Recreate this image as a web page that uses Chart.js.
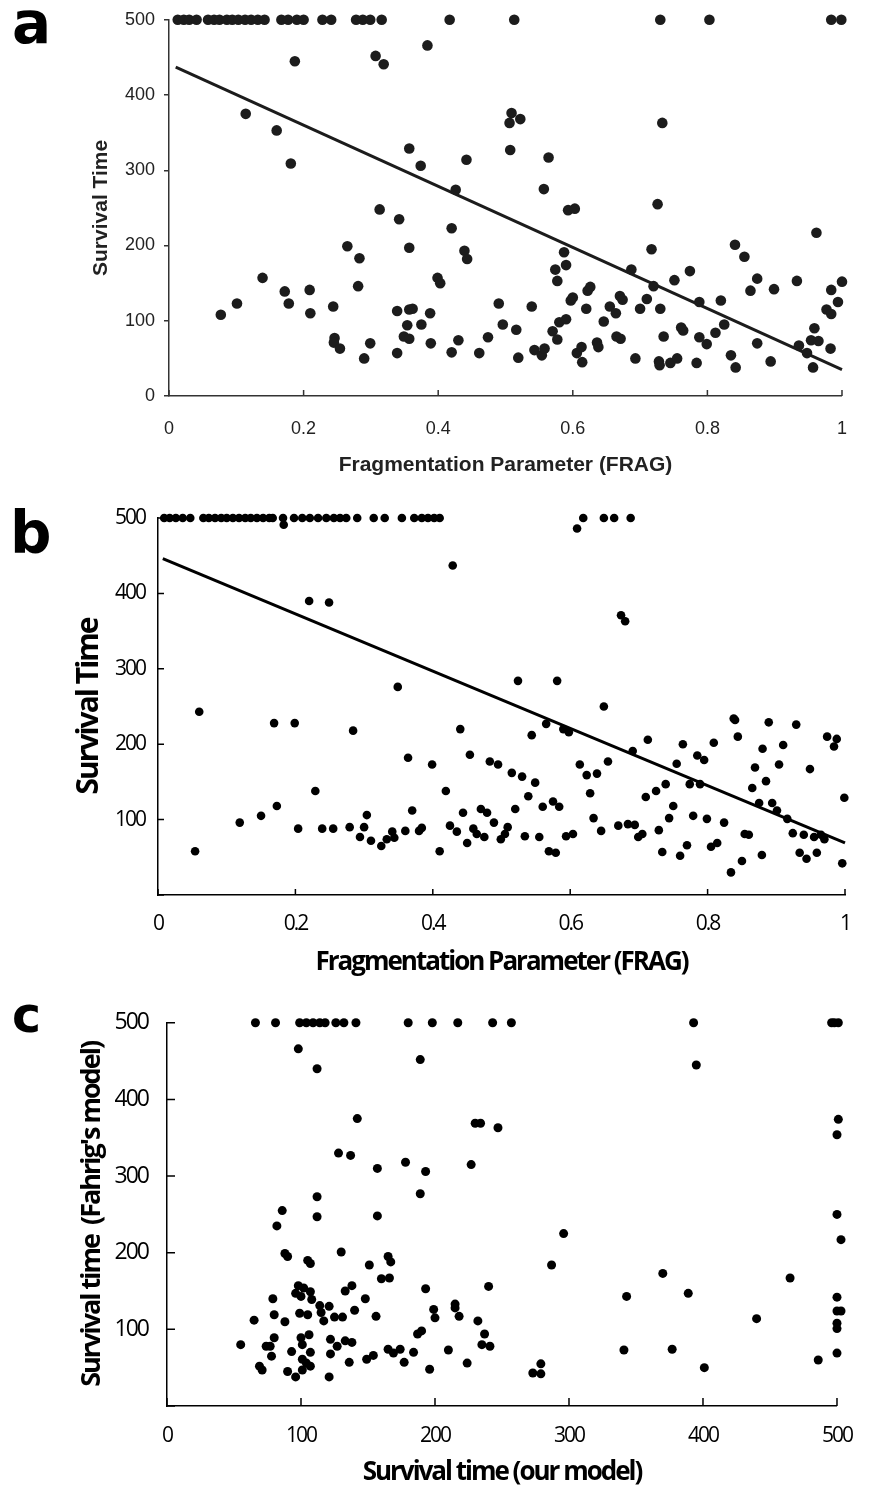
<!DOCTYPE html>
<html>
<head>
<meta charset="utf-8">
<script src="https://cdn.jsdelivr.net/npm/chart.js@4.4.1/dist/chart.umd.min.js"></script>
<style>
  body { margin: 0; background: #fff; }
  #page { position: relative; width: 869px; height: 1488px; overflow: hidden; background: #fff; }
  #page canvas { position: absolute; left: 0; }
  .panel-label { position: absolute; font-family: "DejaVu Sans", sans-serif; font-weight: bold; line-height: 1; color: #000; }
</style>
</head>
<body>
<div id="page">
  <canvas id="chartA" width="869" height="490" style="top:0px"></canvas>
  <canvas id="chartB" width="869" height="500" style="top:490px"></canvas>
  <canvas id="chartC" width="869" height="498" style="top:990px"></canvas>
  <div class="panel-label" style="left:12px; top:-6px; font-size:58px">a</div>
  <div class="panel-label" style="left:10px; top:504px; font-size:58px">b</div>
  <div class="panel-label" style="left:12px; top:991px; font-size:49px">c</div>
</div>
<script>
// panel a: FRAG vs survival time (Fahrig)
const pointsA = [
  [0.013,500],[0.022,500],[0.030,500],[0.041,500],[0.058,500],[0.067,500],[0.075,500],[0.086,500],[0.094,500],[0.103,500],
  [0.113,500],[0.122,500],[0.132,500],[0.142,500],[0.167,500],[0.177,500],[0.190,500],[0.200,500],[0.228,500],[0.241,500],
  [0.278,500],[0.288,500],[0.299,500],[0.316,500],[0.417,500],[0.513,500],[0.730,500],[0.803,500],[0.984,500],[0.999,500],
  [0.384,466],[0.187,445],[0.307,452],[0.319,441],[0.114,375],[0.160,353],[0.181,309],[0.357,329],[0.374,306],[0.313,248],
  [0.342,235],[0.265,199],[0.357,197],[0.509,376],[0.506,363],[0.522,368],[0.507,327],[0.442,314],[0.564,317],[0.426,274],
  [0.557,275],[0.593,247],[0.603,249],[0.733,363],[0.726,255],[0.420,223],[0.962,217],[0.841,201],[0.283,183],[0.281,146],
  [0.139,157],[0.172,139],[0.209,141],[0.178,123],[0.101,123],[0.077,108],[0.210,110],[0.244,119],[0.246,77],[0.245,71],
  [0.254,63],[0.299,70],[0.290,50],[0.339,113],[0.357,115],[0.362,116],[0.354,94],[0.375,95],[0.388,110],[0.349,79],
  [0.357,76],[0.339,57],[0.389,70],[0.439,193],[0.443,182],[0.399,157],[0.403,150],[0.420,58],[0.430,74],[0.461,57],
  [0.474,78],[0.490,123],[0.496,95],[0.516,88],[0.519,51],[0.539,119],[0.543,61],[0.554,54],[0.558,63],[0.570,86],
  [0.577,75],[0.574,168],[0.577,153],[0.587,191],[0.590,174],[0.580,98],[0.590,102],[0.597,127],[0.600,131],[0.606,57],
  [0.613,65],[0.614,45],[0.620,116],[0.622,140],[0.626,145],[0.636,71],[0.638,65],[0.646,99],[0.655,119],[0.664,110],
  [0.665,79],[0.671,76],[0.670,133],[0.674,128],[0.693,50],[0.687,168],[0.700,116],[0.710,129],[0.717,195],[0.720,146],
  [0.730,116],[0.735,79],[0.728,46],[0.729,41],[0.745,44],[0.755,50],[0.751,154],[0.761,91],[0.764,87],[0.774,166],
  [0.784,44],[0.788,125],[0.788,78],[0.799,69],[0.812,84],[0.820,127],[0.825,95],[0.835,54],[0.842,38],[0.855,185],
  [0.864,140],[0.874,156],[0.874,70],[0.894,46],[0.899,142],[0.933,153],[0.936,67],[0.948,57],[0.957,38],[0.959,90],
  [0.954,74],[0.965,73],[0.977,115],[0.984,109],[0.983,63],[0.984,141],[0.994,125],[1.000,152]
];
const fitA = [[0.01,437],[1.0,35]];

// panel b: FRAG vs survival time (our model)
const pointsB = [
  [0.009,500],[0.017,500],[0.026,500],[0.036,500],[0.047,500],[0.066,500],[0.074,500],[0.083,500],[0.092,500],[0.100,500],
  [0.109,500],[0.118,500],[0.127,500],[0.135,500],[0.144,500],[0.153,500],[0.162,500],[0.167,500],[0.182,500],[0.198,500],
  [0.210,500],[0.221,500],[0.233,500],[0.245,500],[0.256,500],[0.265,500],[0.274,500],[0.290,500],[0.314,500],[0.330,500],
  [0.355,500],[0.373,500],[0.384,500],[0.393,500],[0.402,500],[0.410,500],[0.619,500],[0.649,500],[0.664,500],[0.688,500],
  [0.183,491],[0.610,486],[0.840,507],[0.974,507],[0.220,390],[0.249,388],[0.349,276],[0.060,243],[0.169,228],[0.199,228],
  [0.284,218],[0.429,437],[0.674,371],[0.680,363],[0.524,284],[0.581,284],[0.649,250],[0.440,220],[0.544,212],[0.565,227],
  [0.590,220],[0.598,216],[0.838,234],[0.889,229],[0.929,226],[0.364,182],[0.399,173],[0.229,138],[0.054,58],[0.119,96],
  [0.150,105],[0.173,118],[0.204,88],[0.239,88],[0.255,88],[0.279,90],[0.294,77],[0.300,90],[0.304,106],[0.310,72],
  [0.325,65],[0.333,74],[0.341,84],[0.344,76],[0.360,85],[0.370,112],[0.380,85],[0.384,89],[0.410,58],[0.419,138],
  [0.425,92],[0.435,84],[0.444,109],[0.450,69],[0.454,186],[0.459,88],[0.464,81],[0.470,114],[0.475,77],[0.479,109],
  [0.483,177],[0.495,173],[0.489,96],[0.499,74],[0.505,81],[0.509,90],[0.515,162],[0.520,114],[0.530,157],[0.534,78],
  [0.539,131],[0.549,149],[0.555,77],[0.560,117],[0.569,58],[0.579,56],[0.575,124],[0.584,117],[0.594,78],[0.604,81],
  [0.614,173],[0.624,159],[0.639,161],[0.629,135],[0.634,102],[0.645,85],[0.655,177],[0.670,92],[0.684,94],[0.694,93],
  [0.699,77],[0.705,81],[0.691,191],[0.710,130],[0.713,206],[0.725,138],[0.729,86],[0.734,57],[0.739,147],[0.744,102],
  [0.750,118],[0.755,174],[0.760,52],[0.764,200],[0.770,66],[0.774,147],[0.779,105],[0.785,185],[0.795,179],[0.789,147],
  [0.799,101],[0.805,64],[0.814,69],[0.809,202],[0.824,96],[0.834,30],[0.840,232],[0.844,210],[0.850,45],[0.854,81],
  [0.860,80],[0.865,142],[0.869,169],[0.875,122],[0.879,53],[0.880,194],[0.885,151],[0.894,122],[0.901,112],[0.904,173],
  [0.910,199],[0.916,101],[0.924,82],[0.934,56],[0.940,80],[0.944,48],[0.949,167],[0.955,77],[0.965,80],[0.970,74],
  [0.959,56],[0.974,210],[0.988,207],[0.984,197],[0.999,129],[0.996,42]
];
const fitB = [[0.007,446],[1.0,69]];

// panel c: our model vs Fahrig's model
const pointsC = [
  [66,500],[81,500],[99,500],[104,500],[109,500],[114,500],[118,500],[126,500],[132,500],[141,500],
  [180,500],[198,500],[217,500],[243,500],[257,500],[393,500],[496,500],[498,500],[501,500],
  [98,466],[112,440],[142,375],[128,330],[137,327],[157,310],[178,318],[193,306],[189,452],[112,273],
  [189,277],[86,255],[112,247],[157,248],[82,235],[395,445],[230,369],[234,369],[247,363],[227,315],
  [501,374],[500,354],[500,250],[503,217],[296,225],[88,199],[90,195],[105,190],[107,186],[130,201],
  [151,184],[165,195],[167,188],[160,166],[166,167],[193,153],[79,140],[98,157],[102,154],[96,147],
  [100,143],[107,149],[108,139],[114,131],[121,130],[133,150],[138,157],[148,140],[65,112],[80,119],
  [88,110],[99,121],[105,119],[115,122],[117,111],[125,116],[131,116],[140,125],[156,117],[199,126],
  [200,115],[55,80],[74,78],[77,78],[80,89],[78,65],[69,52],[71,47],[90,45],[96,38],
  [93,71],[100,89],[106,93],[101,80],[107,70],[101,61],[104,56],[107,52],[101,47],[122,87],
  [127,78],[122,68],[121,38],[133,85],[138,83],[136,57],[149,61],[154,66],[165,74],[169,69],
  [174,74],[177,57],[184,70],[187,94],[190,98],[196,48],[287,184],[240,156],[215,133],[215,128],
  [218,117],[232,111],[237,94],[235,80],[241,78],[210,73],[224,56],[273,43],[279,55],[279,42],
  [343,143],[341,73],[370,173],[377,74],[389,147],[401,50],[440,114],[465,167],[486,60],[500,142],
  [500,124],[503,124],[500,108],[500,101],[500,69]
];

const fragTicks = [0, 0.2, 0.4, 0.6, 0.8, 1];
const timeTicks = [0, 100, 200, 300, 400, 500];

const toXY = arr => arr.map(p => ({ x: p[0], y: p[1] }));

// tick marks drawn on the inside of the axes
const innerTicks = {
  id: "innerTicks",
  afterDatasetsDraw(chart, args, opts) {
    const ctx = chart.ctx;
    const area = chart.chartArea;
    const len = opts.length || 6;
    ctx.save();
    ctx.strokeStyle = opts.color || "#000";
    ctx.lineWidth = opts.width || 1.5;
    ctx.beginPath();
    if (opts.x) {
      chart.scales.x.ticks.forEach(t => {
        const px = chart.scales.x.getPixelForValue(t.value);
        ctx.moveTo(px, area.bottom);
        ctx.lineTo(px, area.bottom - len);
      });
    }
    if (opts.y) {
      chart.scales.y.ticks.forEach(t => {
        const py = chart.scales.y.getPixelForValue(t.value);
        ctx.moveTo(area.left, py);
        ctx.lineTo(area.left + len, py);
      });
    }
    ctx.stroke();
    ctx.restore();
  }
};

// the scanned lettering in b and c is very tight
const tightText = {
  id: "tightText",
  beforeUpdate(chart, args, opts) { chart.ctx.letterSpacing = (opts.px || 0) + "px"; },
  beforeDraw(chart, args, opts) { chart.ctx.letterSpacing = (opts.px || 0) + "px"; }
};

function scatterSet(arr, color, radius) {
  return {
    data: toXY(arr),
    backgroundColor: color,
    borderColor: color,
    pointRadius: radius,
    pointHoverRadius: radius,
    pointBorderWidth: 0,
    clip: false
  };
}

function fitSet(arr, color, width) {
  return {
    data: toXY(arr),
    showLine: true,
    borderColor: color,
    borderWidth: width,
    pointRadius: 0,
    clip: false
  };
}

const baseOpts = {
  responsive: false,
  animation: false,
  events: [],
  plugins: { legend: { display: false }, tooltip: { enabled: false } }
};

// ---- a ----
const fontA = "'Liberation Sans', Arial, sans-serif";
new Chart(document.getElementById("chartA"), {
  type: "scatter",
  data: { datasets: [scatterSet(pointsA, "#1c1c1c", 5.3), fitSet(fitA, "#1c1c1c", 3)] },
  options: {
    ...baseOpts,
    layout: { padding: { top: 17, right: 10, left: 0, bottom: 0 } },
    plugins: { ...baseOpts.plugins, innerTicks: { x: true, y: false, length: 6, color: "#333", width: 1.5 }, tightText: { px: 0 } },
    scales: {
      x: {
        type: "linear", min: 0, max: 1,
        afterFit: s => { s.height = 94; },
        afterBuildTicks: s => { s.ticks = fragTicks.map(v => ({ value: v })); },
        grid: { display: false, drawTicks: false },
        border: { display: true, color: "#333", width: 1.5 },
        ticks: { padding: 22, color: "#222", font: { family: fontA, size: 18 },
          callback: v => String(Math.round(v * 10) / 10) },
        title: { display: true, text: "Fragmentation Parameter (FRAG)", color: "#222",
          font: { family: fontA, size: 21, weight: "bold" }, padding: { top: 0, bottom: 12 } }
      },
      y: {
        type: "linear", min: 0, max: 500,
        afterFit: s => { s.width = 169; },
        afterBuildTicks: s => { s.ticks = timeTicks.map(v => ({ value: v })); },
        grid: { display: true, drawOnChartArea: false, drawTicks: true, tickLength: 5, color: "#333", lineWidth: 1.5 },
        border: { display: true, color: "#333", width: 1.5 },
        ticks: { padding: 9, color: "#222", font: { family: fontA, size: 18 } },
        title: { display: true, text: "Survival Time", color: "#222",
          font: { family: fontA, size: 21, weight: "bold" }, padding: { top: 89, bottom: 0 } }
      }
    }
  },
  plugins: [innerTicks, tightText]
});

// ---- b ----
const fontBC = "'Open Sans', 'Noto Sans', sans-serif";
new Chart(document.getElementById("chartB"), {
  type: "scatter",
  data: { datasets: [scatterSet(pointsB, "#000", 4.3), fitSet(fitB, "#000", 3)] },
  options: {
    ...baseOpts,
    layout: { padding: { top: 28, right: 24, left: 0, bottom: 0 } },
    plugins: { ...baseOpts.plugins, innerTicks: { x: true, y: true, length: 6, color: "#000", width: 1.5 }, tightText: { px: -2 } },
    scales: {
      x: {
        type: "linear", min: 0, max: 1,
        afterFit: s => { s.height = 95; },
        afterBuildTicks: s => { s.ticks = fragTicks.map(v => ({ value: v })); },
        grid: { display: false, drawTicks: false },
        border: { display: true, color: "#000", width: 1.5 },
        ticks: { padding: 16, color: "#000", font: { family: fontBC, size: 21 },
          callback: v => String(Math.round(v * 10) / 10) },
        title: { display: true, text: "Fragmentation Parameter (FRAG)", color: "#000",
          font: { family: fontBC, size: 26, weight: "bold" }, padding: { top: 0, bottom: 12 } }
      },
      y: {
        type: "linear", min: 0, max: 500,
        afterFit: s => { s.width = 158; },
        afterBuildTicks: s => { s.ticks = timeTicks.map(v => ({ value: v })); },
        grid: { display: false, drawTicks: false },
        border: { display: true, color: "#000", width: 1.5 },
        ticks: { padding: 13, color: "#000", font: { family: fontBC, size: 21 },
          callback: v => (v === 0 ? "" : String(v)) },
        title: { display: true, text: "Survival Time", color: "#000",
          font: { family: fontBC, size: 30, weight: "bold" }, padding: { top: 71, bottom: 0 } }
      }
    }
  },
  plugins: [innerTicks, tightText]
});

// ---- c ----
new Chart(document.getElementById("chartC"), {
  type: "scatter",
  data: { datasets: [scatterSet(pointsC, "#000", 4.5)] },
  options: {
    ...baseOpts,
    layout: { padding: { top: 24, right: 22, left: 0, bottom: 0 } },
    plugins: { ...baseOpts.plugins, innerTicks: { x: true, y: true, length: 8, color: "#000", width: 1.5 }, tightText: { px: -2 } },
    scales: {
      x: {
        type: "linear", min: 0, max: 500,
        afterFit: s => { s.height = 82; },
        afterBuildTicks: s => { s.ticks = timeTicks.map(v => ({ value: v })); },
        grid: { display: false, drawTicks: false },
        border: { display: true, color: "#000", width: 1.5 },
        ticks: { padding: 17, color: "#000", font: { family: fontBC, size: 21 } },
        title: { display: true, text: "Survival time (our model)", color: "#000",
          font: { family: fontBC, size: 26, weight: "bold" }, padding: { top: 0, bottom: 0 } }
      },
      y: {
        type: "linear", min: 0, max: 500,
        afterFit: s => { s.width = 167; },
        afterBuildTicks: s => { s.ticks = timeTicks.map(v => ({ value: v })); },
        grid: { display: false, drawTicks: false },
        border: { display: true, color: "#000", width: 1.5 },
        ticks: { padding: 19, color: "#000", font: { family: fontBC, size: 23 },
          callback: v => (v === 0 ? "" : String(v)) },
        title: { display: true, text: "Survival time  (Fahrig's model)", color: "#000",
          font: { family: fontBC, size: 27, weight: "bold" }, padding: { top: 76, bottom: 0 } }
      }
    }
  },
  plugins: [innerTicks, tightText]
});
</script>
</body>
</html>
